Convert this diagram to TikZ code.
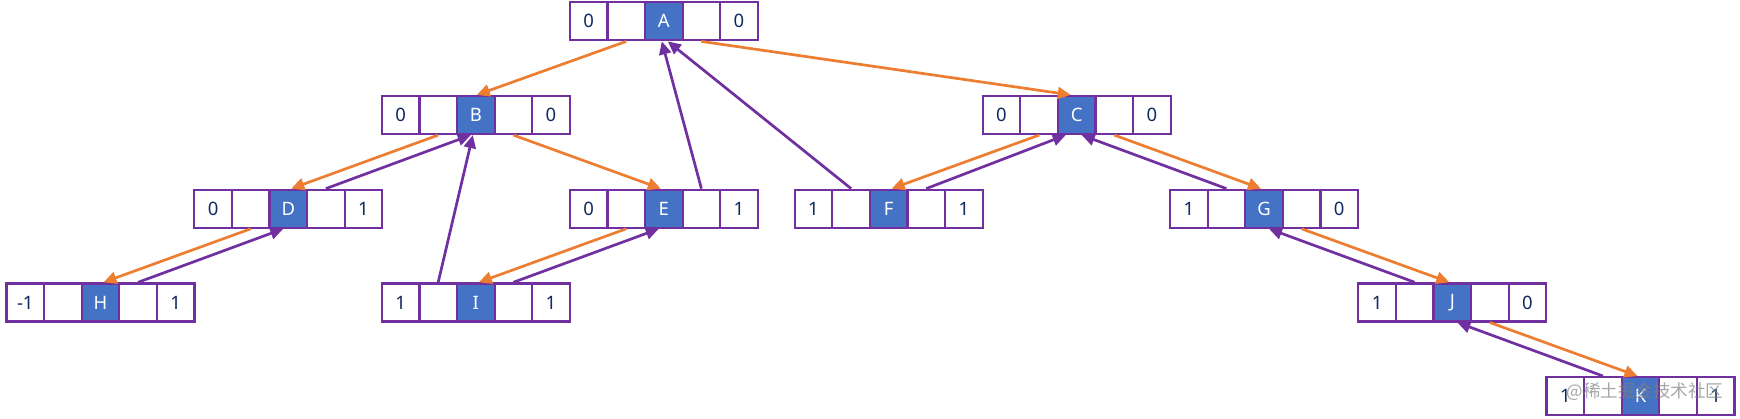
\documentclass[tikz,border=0pt]{standalone}
\usepackage{fontspec}
\setmainfont{Noto Sans}
\newfontfamily\cjk{Noto Sans CJK SC}
\usetikzlibrary{arrows.meta}
\definecolor{cellpurple}{HTML}{7030A0}
\definecolor{nodeblue}{HTML}{4472C4}
\definecolor{arrorange}{HTML}{ED7D31}
\definecolor{digitblue}{HTML}{0E2A5E}
\tikzset{
  cell/.style={draw=cellpurple, line width=2.2pt, minimum width=37.6pt, minimum height=38pt, inner sep=0pt, text=digitblue, font=\fontsize{18.5}{22}\selectfont},
  keycell/.style={cell, fill=nodeblue, text=white},
  childarrow/.style={draw=arrorange, line width=2.7pt, -{Triangle[length=13pt,width=12pt]}},
  threadarrow/.style={draw=cellpurple, line width=2.7pt, -{Triangle[length=13pt,width=12pt]}},
}
\newcommand\recnode[6]{%
  \node[cell] (#1-1) at (#2-75.2,#3) {#4};
  \node[cell] (#1-2) at (#2-37.6,#3) {};
  \node[keycell] (#1-3) at (#2,#3) {#5};
  \node[cell] (#1-4) at (#2+37.6,#3) {};
  \node[cell] (#1-5) at (#2+75.2,#3) {#6};
}
\begin{document}
\begin{tikzpicture}[x=1pt,y=-1pt]
\useasboundingbox (0,0) rectangle (1740,418);
% rows
\recnode{A}{663.8}{21.3}{0}{A}{0}
\recnode{B}{475.8}{115}{0}{B}{0}
\recnode{C}{1076.7}{115}{0}{C}{0}
\recnode{D}{288.3}{208.7}{0}{D}{1}
\recnode{E}{663.8}{208.7}{0}{E}{1}
\recnode{F}{888.7}{208.7}{1}{F}{1}
\recnode{G}{1264}{208.7}{1}{G}{0}
\recnode{H}{100.5}{302.4}{-1}{H}{1}
\recnode{I}{475.8}{302.4}{1}{I}{1}
\recnode{J}{1452.3}{302.4}{1}{J}{0}
\recnode{K}{1640.5}{396.1}{1}{K}{1}
% child pointers
\draw[childarrow] (A-2.south) -- ([xshift=1pt]B-3.north);
\draw[childarrow] (A-4.south) -- ([xshift=-6pt]C-3.north);
\draw[childarrow] (B-2.south) -- ([xshift=3pt]D-3.north);
\draw[childarrow] (B-4.south) -- ([xshift=-3pt]E-3.north);
\draw[childarrow] (C-2.south) -- ([xshift=3pt]F-3.north);
\draw[childarrow] (C-4.south) -- ([xshift=-3pt]G-3.north);
\draw[childarrow] (D-2.south) -- ([xshift=3pt]H-3.north);
\draw[childarrow] (E-2.south) -- ([xshift=3pt]I-3.north);
\draw[childarrow] (G-4.south) -- ([xshift=-3pt]J-3.north);
\draw[childarrow] (J-4.south) -- ([xshift=-3pt]K-3.north);
% threads
\draw[threadarrow] (D-4.north) -- ([xshift=-5pt]B-3.south);
\draw[threadarrow] (H-4.north) -- ([xshift=-5pt]D-3.south);
\draw[threadarrow] (I-2.north) -- ([xshift=-3pt]B-3.south);
\draw[threadarrow] (I-4.north) -- ([xshift=-5pt]E-3.south);
\draw[threadarrow] (E-4.north) -- ([xshift=-2pt]A-3.south);
\draw[threadarrow] (F-2.north) -- ([xshift=4pt]A-3.south);
\draw[threadarrow] (F-4.north) -- ([xshift=-11pt]C-3.south);
\draw[threadarrow] (G-2.north) -- ([xshift=5pt]C-3.south);
\draw[threadarrow] (J-2.north) -- ([xshift=5pt]G-3.south);
\draw[threadarrow] (K-2.north) -- ([xshift=5pt]J-3.south);
% watermark
\node[text=gray, opacity=0.7, inner sep=0pt, font=\cjk\fontsize{17.5}{20}\selectfont] (wm) at (1645,392) {@稀土掘金技术社区};
\end{tikzpicture}
\end{document}
